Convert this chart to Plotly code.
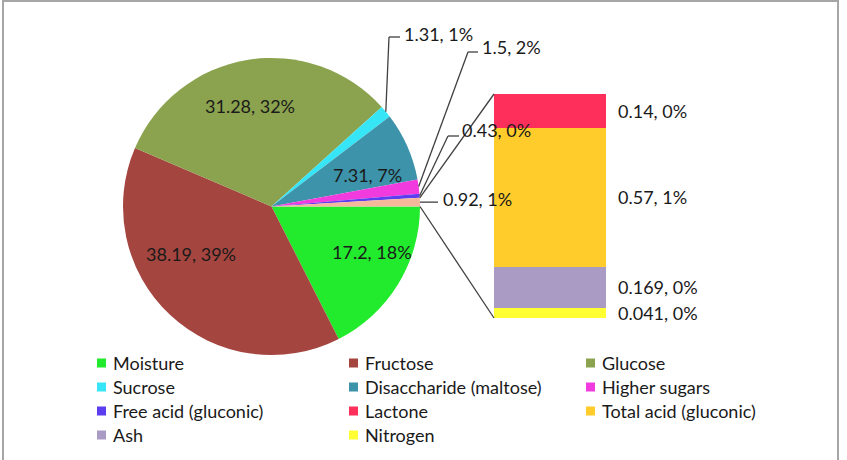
import math
import plotly.graph_objects as go

W, H = 847, 460

# ---------------- data ----------------
pie_labels = ["Moisture", "Fructose", "Glucose", "Sucrose", "Disaccharide (maltose)",
              "Higher sugars", "Free acid (gluconic)", "Other"]
pie_values = [17.2, 38.19, 31.28, 1.31, 7.31, 1.5, 0.43, 0.92]
pie_colors = ["#22EA2C", "#A5453F", "#8BA34E", "#36E6F6", "#3D93A9",
              "#F23BDE", "#5C3DF0", "#F6B89B"]

bar_labels = ["Nitrogen", "Ash", "Total acid (gluconic)", "Lactone"]   # bottom -> top
bar_values = [0.041, 0.169, 0.57, 0.14]
bar_colors = ["#FFFF33", "#A99BC3", "#FFCC2B", "#FF2F5C"]

legend_labels = ["Moisture", "Fructose", "Glucose",
                 "Sucrose", "Disaccharide (maltose)", "Higher sugars",
                 "Free acid (gluconic)", "Lactone", "Total acid (gluconic)",
                 "Ash", "Nitrogen"]

total = sum(pie_values)
color_of = dict(zip(pie_labels, pie_colors))
color_of.update(dict(zip(bar_labels, bar_colors)))


def lab(v):
    return f"{v:g}, {round(v / total * 100):.0f}%"


FONT = "Lato, 'Liberation Sans', sans-serif"
FS = 18
TXT = "#1a1a1a"


def px(x):
    return x / W


def py(y):
    return 1 - y / H


# ---------------- layout geometry (pixels) ----------------
cx, cy, r = 271.5, 206.5, 148.5
bar_x0, bar_x1, bar_y0, bar_y1 = 494, 606, 94, 318

fig = go.Figure()

fig.add_trace(go.Pie(
    labels=pie_labels, values=pie_values, sort=False, direction="clockwise",
    rotation=90, textinfo="none",
    marker=dict(colors=pie_colors, line=dict(width=0)),
    domain=dict(x=[px(cx - r), px(cx + r)], y=[py(cy + r), py(cy - r)]),
    showlegend=False, hoverinfo="label+value+percent",
))

for name, v, c in zip(bar_labels, bar_values, bar_colors):
    fig.add_trace(go.Bar(x=[0], y=[v], name=name, marker=dict(color=c, line=dict(width=0)),
                         width=1, showlegend=False))

bar_total = sum(bar_values)

annotations = []
shapes = []

# bar value labels
cum = 0
for name, v in zip(bar_labels, bar_values):
    annotations.append(dict(xref="x", yref="y", x=0.5, y=cum + v / 2, text=lab(v),
                            showarrow=False, xanchor="left", yanchor="middle", xshift=10,
                            font=dict(family=FONT, size=FS, color=TXT)))
    cum += v

# label placement for pie slices (pixels)
inside_pos = {  # text centre
    "Moisture": (372, 252),
    "Fructose": (191, 254),
    "Glucose": (250, 106),
    "Disaccharide (maltose)": (367, 175),
}
outside_pos = {  # elbow (x, y), line end x, text x, text y
    "Sucrose": ((389, 37), 400, 402, 34),
    "Higher sugars": ((468, 52), 478, 480, 47),
    "Free acid (gluconic)": ((448, 136), 459, 460, 130),
    "Other": (None, 438, 441, 199),
}


def edge_point(frac):
    a = 2 * math.pi * frac
    return cx + r * math.cos(a), cy + r * math.sin(a)


line_style = dict(color="#404040", width=1.3)
cumf = 0
for name, v in zip(pie_labels, pie_values):
    f = v / total
    if name in inside_pos:
        tx, ty = inside_pos[name]
        annotations.append(dict(xref="paper", yref="paper", x=px(tx), y=py(ty), text=lab(v),
                                showarrow=False, xanchor="center", yanchor="middle",
                                font=dict(family=FONT, size=FS, color=TXT)))
    if name in outside_pos:
        ax, ay = edge_point(cumf + f / 2)
        elbow, lx, tx, ty = outside_pos[name]
        if elbow is None:
            elbow = (ax, ay)
            ly = ay
        else:
            ly = elbow[1]
            shapes.append(dict(type="line", xref="paper", yref="paper",
                               x0=px(ax), y0=py(ay), x1=px(elbow[0]), y1=py(elbow[1]),
                               line=line_style))
        shapes.append(dict(type="line", xref="paper", yref="paper",
                           x0=px(elbow[0]), y0=py(ly), x1=px(lx), y1=py(ly), line=line_style))
        annotations.append(dict(xref="paper", yref="paper", x=px(tx), y=py(ty), text=lab(v),
                                showarrow=False, xanchor="left", yanchor="middle",
                                font=dict(family=FONT, size=FS, color=TXT)))
    cumf += f

# connector lines from "Other" slice to the bar
other_start = 1 - pie_values[-1] / total
p_top = edge_point(other_start)
p_bot = edge_point(1.0)
shapes.append(dict(type="line", xref="paper", yref="paper", x0=px(p_top[0]), y0=py(p_top[1]),
                   x1=px(bar_x0), y1=py(bar_y0), line=line_style))
shapes.append(dict(type="line", xref="paper", yref="paper", x0=px(p_bot[0]), y0=py(p_bot[1]),
                   x1=px(bar_x0), y1=py(bar_y1), line=line_style))

# legend (3 columns)
col_x = [97, 349, 586]
row_y = [363, 387, 411, 435]
for i, name in enumerate(legend_labels):
    x = col_x[i % 3]
    y = row_y[i // 3]
    shapes.append(dict(type="rect", xref="paper", yref="paper",
                       x0=px(x), x1=px(x + 9), y0=py(y - 4.5), y1=py(y + 4.5),
                       fillcolor=color_of[name], line=dict(width=0)))
    annotations.append(dict(xref="paper", yref="paper", x=px(x + 14), y=py(y), text=name,
                            showarrow=False, xanchor="left", yanchor="middle",
                            font=dict(family=FONT, size=FS, color=TXT)))

# chart border
shapes.append(dict(type="rect", xref="paper", yref="paper", x0=px(3), x1=px(838),
                   y0=py(470), y1=py(1), line=dict(color="#A6A6A6", width=2),
                   fillcolor="rgba(0,0,0,0)", layer="below"))

fig.update_layout(
    width=W, height=H, margin=dict(l=0, r=0, t=0, b=0),
    paper_bgcolor="white", plot_bgcolor="white",
    barmode="stack", bargap=0,
    xaxis=dict(domain=[px(bar_x0), px(bar_x1)], range=[-0.5, 0.5], visible=False, fixedrange=True),
    yaxis=dict(domain=[py(bar_y1), py(bar_y0)], range=[0, bar_total], visible=False, fixedrange=True),
    annotations=annotations, shapes=shapes,
    font=dict(family=FONT, size=FS),
    showlegend=False,
)

fig.write_html("out.html")
